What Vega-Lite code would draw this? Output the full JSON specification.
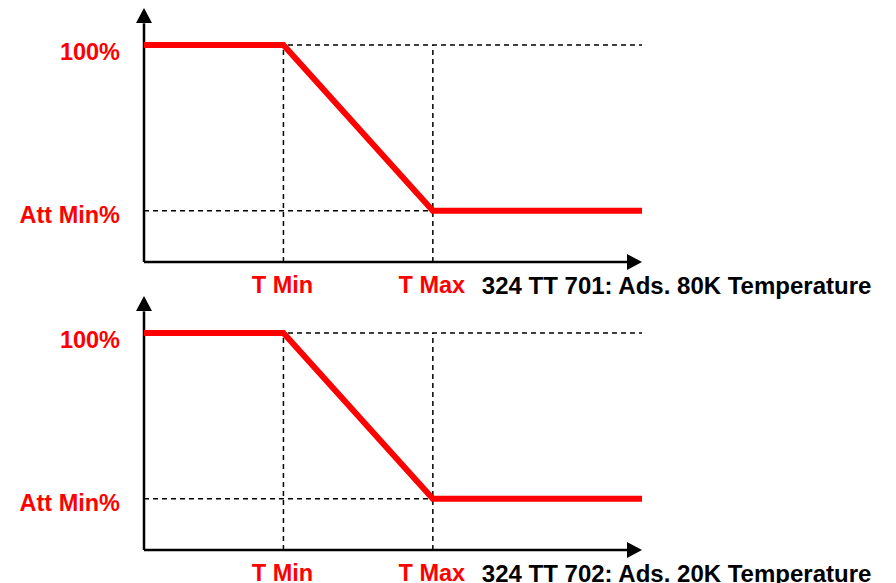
{
  "$schema": "https://vega.github.io/schema/vega-lite/v6.json",
  "padding": {"left": 19, "top": 8, "right": 0, "bottom": 0},
  "background": "white",
  "config": {"view": {"stroke": null}},
  "data": {"values": [
    {"panel": 1, "kind": "curve", "ord": 1, "x": 0, "y": 100},
    {"panel": 1, "kind": "curve", "ord": 2, "x": 28, "y": 100},
    {"panel": 1, "kind": "curve", "ord": 3, "x": 58, "y": 23.6},
    {"panel": 1, "kind": "curve", "ord": 4, "x": 100, "y": 23.6},
    {"panel": 1, "kind": "dash", "x": 0, "y": 100, "x2": 100, "y2": 100},
    {"panel": 1, "kind": "dash", "x": 0, "y": 23.6, "x2": 100, "y2": 23.6},
    {"panel": 1, "kind": "dash", "x": 28, "y": 0, "x2": 28, "y2": 100},
    {"panel": 1, "kind": "dash", "x": 58, "y": 0, "x2": 58, "y2": 100},
    {"panel": 1, "kind": "axis", "x": 0, "y": 0, "x2": 97, "y2": 0},
    {"panel": 1, "kind": "axis", "x": 0, "y": 0, "x2": 0, "y2": 110},
    {"panel": 1, "kind": "arrowR", "x": 100, "y": 0},
    {"panel": 1, "kind": "arrowU", "x": 0, "y": 117},
    {"panel": 1, "kind": "ytop", "x": 0, "y": 100, "label": "100%"},
    {"panel": 1, "kind": "ybot", "x": 0, "y": 23.6, "label": "Att Min%"},
    {"panel": 1, "kind": "xlab", "x": 28, "y": 0, "label": "T Min"},
    {"panel": 1, "kind": "xlab", "x": 58, "y": 0, "label": "T Max"},
    {"panel": 1, "kind": "title", "x": 58, "y": 0, "label": "324 TT 701: Ads. 80K Temperature"},
    {"panel": 2, "kind": "curve", "ord": 1, "x": 0, "y": 100},
    {"panel": 2, "kind": "curve", "ord": 2, "x": 28, "y": 100},
    {"panel": 2, "kind": "curve", "ord": 3, "x": 58, "y": 23.6},
    {"panel": 2, "kind": "curve", "ord": 4, "x": 100, "y": 23.6},
    {"panel": 2, "kind": "dash", "x": 0, "y": 100, "x2": 100, "y2": 100},
    {"panel": 2, "kind": "dash", "x": 0, "y": 23.6, "x2": 100, "y2": 23.6},
    {"panel": 2, "kind": "dash", "x": 28, "y": 0, "x2": 28, "y2": 100},
    {"panel": 2, "kind": "dash", "x": 58, "y": 0, "x2": 58, "y2": 100},
    {"panel": 2, "kind": "axis", "x": 0, "y": 0, "x2": 97, "y2": 0},
    {"panel": 2, "kind": "axis", "x": 0, "y": 0, "x2": 0, "y2": 110},
    {"panel": 2, "kind": "arrowR", "x": 100, "y": 0},
    {"panel": 2, "kind": "arrowU", "x": 0, "y": 117},
    {"panel": 2, "kind": "ytop", "x": 0, "y": 100, "label": "100%"},
    {"panel": 2, "kind": "ybot", "x": 0, "y": 23.6, "label": "Att Min%"},
    {"panel": 2, "kind": "xlab", "x": 28, "y": 0, "label": "T Min"},
    {"panel": 2, "kind": "xlab", "x": 58, "y": 0, "label": "T Max"},
    {"panel": 2, "kind": "title", "x": 58, "y": 0, "label": "324 TT 702: Ads. 20K Temperature"}
  ]},
  "facet": {"row": {"field": "panel", "type": "ordinal", "header": null}},
  "spacing": 71,
  "bounds": "flush",
  "spec": {
    "width": 498,
    "height": 217,
    "encoding": {
      "x": {"field": "x", "type": "quantitative", "scale": {"domain": [0, 100], "nice": false, "zero": false}, "axis": null},
      "y": {"field": "y", "type": "quantitative", "scale": {"domain": [0, 100], "nice": false, "zero": false}, "axis": null}
    },
    "layer": [
      {
        "transform": [{"filter": "datum.kind === 'dash'"}],
        "mark": {"type": "rule", "color": "black", "strokeWidth": 1.5, "strokeDash": [5, 4]},
        "encoding": {"x2": {"field": "x2"}, "y2": {"field": "y2"}}
      },
      {
        "transform": [{"filter": "datum.kind === 'axis'"}],
        "mark": {"type": "rule", "color": "black", "strokeWidth": 2.5},
        "encoding": {"x2": {"field": "x2"}, "y2": {"field": "y2"}}
      },
      {
        "transform": [{"filter": "datum.kind === 'curve'"}],
        "mark": {"type": "line", "color": "#ff0000", "strokeWidth": 6, "strokeCap": "butt"},
        "encoding": {"order": {"field": "ord", "type": "quantitative"}}
      },
      {
        "transform": [{"filter": "datum.kind === 'arrowR'"}],
        "mark": {"type": "point", "filled": true, "color": "black", "opacity": 1, "size": 256, "shape": "M0,0 L-1.875,-1 L-1.875,1 Z"}
      },
      {
        "transform": [{"filter": "datum.kind === 'arrowU'"}],
        "mark": {"type": "point", "filled": true, "color": "black", "opacity": 1, "size": 256, "shape": "M0,0 L-1,1.875 L1,1.875 Z"}
      },
      {
        "transform": [{"filter": "datum.kind === 'ytop'"}],
        "mark": {"type": "text", "align": "right", "baseline": "alphabetic", "dx": -24, "dy": 14.5, "font": "Liberation Sans", "fontWeight": "bold", "fontSize": 23.5, "color": "#ff0000"},
        "encoding": {"text": {"field": "label"}}
      },
      {
        "transform": [{"filter": "datum.kind === 'ybot'"}],
        "mark": {"type": "text", "align": "right", "baseline": "alphabetic", "dx": -24, "dy": 12.5, "font": "Liberation Sans", "fontWeight": "bold", "fontSize": 23.5, "color": "#ff0000"},
        "encoding": {"text": {"field": "label"}}
      },
      {
        "transform": [{"filter": "datum.kind === 'xlab'"}],
        "mark": {"type": "text", "align": "center", "baseline": "alphabetic", "dx": -1, "dy": 31, "font": "Liberation Sans", "fontWeight": "bold", "fontSize": 23.5, "color": "#ff0000"},
        "encoding": {"text": {"field": "label"}}
      },
      {
        "transform": [{"filter": "datum.kind === 'title'"}],
        "mark": {"type": "text", "align": "left", "baseline": "alphabetic", "dx": 49, "dy": 32, "font": "Liberation Sans", "fontWeight": "bold", "fontSize": 24, "color": "black"},
        "encoding": {"text": {"field": "label"}}
      }
    ]
  }
}
